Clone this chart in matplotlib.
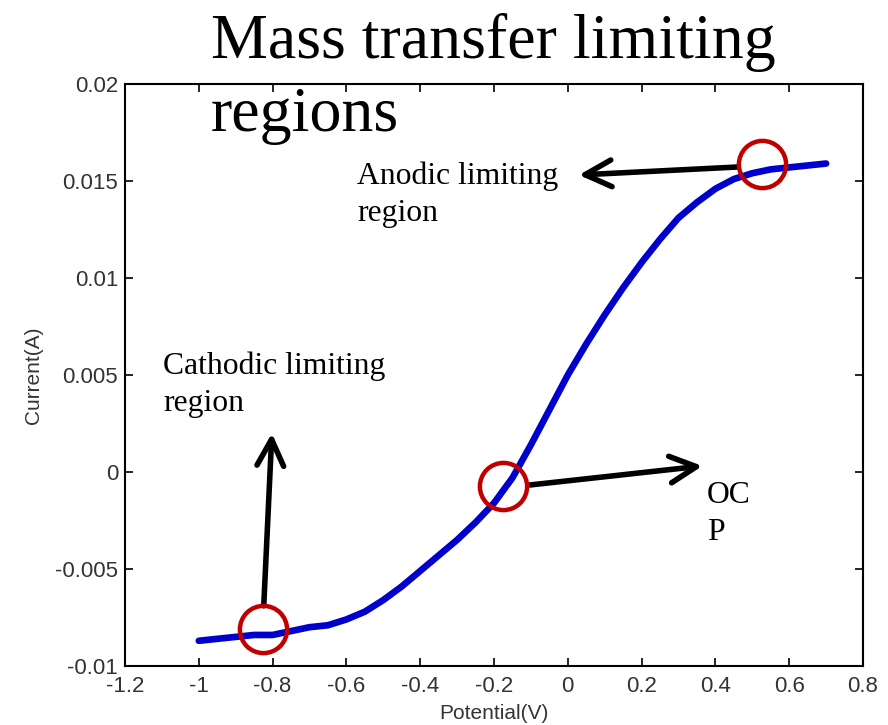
import matplotlib
matplotlib.use("Agg")
import matplotlib.pyplot as plt

# Data (potential in V, current in A)
potential = [-1.00, -0.95, -0.90, -0.85, -0.80, -0.75, -0.70, -0.65, -0.60, -0.55,
             -0.50, -0.45, -0.40, -0.35, -0.30, -0.25, -0.20, -0.15, -0.10, -0.05,
             0.00, 0.05, 0.10, 0.15, 0.20, 0.25, 0.30, 0.35, 0.40, 0.45,
             0.50, 0.55, 0.60, 0.65, 0.70]
current = [-0.0087, -0.0086, -0.0085, -0.0084, -0.0084, -0.0082, -0.0080, -0.0079, -0.0076, -0.0072,
           -0.0066, -0.0059, -0.0051, -0.0043, -0.0035, -0.0026, -0.0016, -0.0003, 0.0014, 0.0032,
           0.0050, 0.0066, 0.0081, 0.0095, 0.0108, 0.0120, 0.0131, 0.0139, 0.0146, 0.0151,
           0.0154, 0.0156, 0.0157, 0.0158, 0.0159]

# Highlighted points (circles)
circle_x = [0.526, -0.176, -0.827]
circle_y = [0.0159, -0.0007, -0.0081]

xticks = [-1.2, -1, -0.8, -0.6, -0.4, -0.2, 0, 0.2, 0.4, 0.6, 0.8]
xticklabels = ["-1.2", "-1", "-0.8", "-0.6", "-0.4", "-0.2", "0", "0.2", "0.4", "0.6", "0.8"]
yticks = [-0.01, -0.005, 0, 0.005, 0.01, 0.015, 0.02]
yticklabels = ["-0.01", "-0.005", "0", "0.005", "0.01", "0.015", "0.02"]

sans = ["Liberation Sans", "DejaVu Sans"]
serif = ["Liberation Serif", "DejaVu Serif"]

fig = plt.figure(figsize=(8.88, 7.25), dpi=100)
ax = fig.add_axes([125/888, 1-666/725, (863-125)/888, (666-84)/725])

ax.plot(potential, current, color="#0000cc", lw=4.8, solid_capstyle="round",
        solid_joinstyle="round", zorder=3)
ax.plot(circle_x, circle_y, linestyle="none", marker="o", markersize=34,
        markerfacecolor="none", markeredgecolor="#c00000", markeredgewidth=3.2, zorder=5)

ax.set_xlim(-1.2, 0.8)
ax.set_ylim(-0.01, 0.02)
ax.set_xticks(xticks)
ax.set_xticklabels(xticklabels, family=sans, fontsize=16, color="#333333")
ax.set_yticks(yticks)
ax.set_yticklabels(yticklabels, family=sans, fontsize=16, color="#333333")
ax.tick_params(direction="in", length=6, width=1.2, top=True, right=True)
ax.tick_params(axis="x", pad=7)
ax.tick_params(axis="y", pad=5)
for s in ax.spines.values():
    s.set_linewidth(1.5)
ax.set_xlabel("Potential(V)", family=sans, fontsize=15, color="#333333", labelpad=5)
ax.set_ylabel("Current(A)", family=sans, fontsize=15, color="#333333", labelpad=9)

arrow_kw = dict(arrowstyle="->,head_length=0.95,head_width=0.48", lw=4, color="black",
                shrinkA=0, shrinkB=0, mutation_scale=20, capstyle="round", joinstyle="round")
ax.annotate("", xy=(0.030, 0.01531), xytext=(0.458, 0.01572), arrowprops=arrow_kw, zorder=4)
ax.annotate("", xy=(0.365, 0.00031), xytext=(-0.103, -0.00067), arrowprops=arrow_kw, zorder=4)
ax.annotate("", xy=(-0.802, 0.00200), xytext=(-0.824, -0.0069), arrowprops=arrow_kw, zorder=4)

# va="baseline" on multi-line text aligns the last line's baseline
fig.text(357/888, 1-221/725, "Anodic limiting\nregion", family=serif, fontsize=22.8,
         ha="left", va="baseline", linespacing=1.35)
fig.text(163/888, 1-411/725, "Cathodic limiting\nregion", family=serif, fontsize=22.8,
         ha="left", va="baseline", linespacing=1.35)
fig.text(707/888, 1-540/725, "OC\nP", family=serif, fontsize=22.8,
         ha="left", va="baseline", linespacing=1.35)
fig.text(211/888, 1-131/725, "Mass transfer limiting\nregions", family=serif, fontsize=46,
         ha="left", va="baseline", linespacing=1.35, zorder=10)

fig.savefig("out.png", dpi=100, facecolor="white")
